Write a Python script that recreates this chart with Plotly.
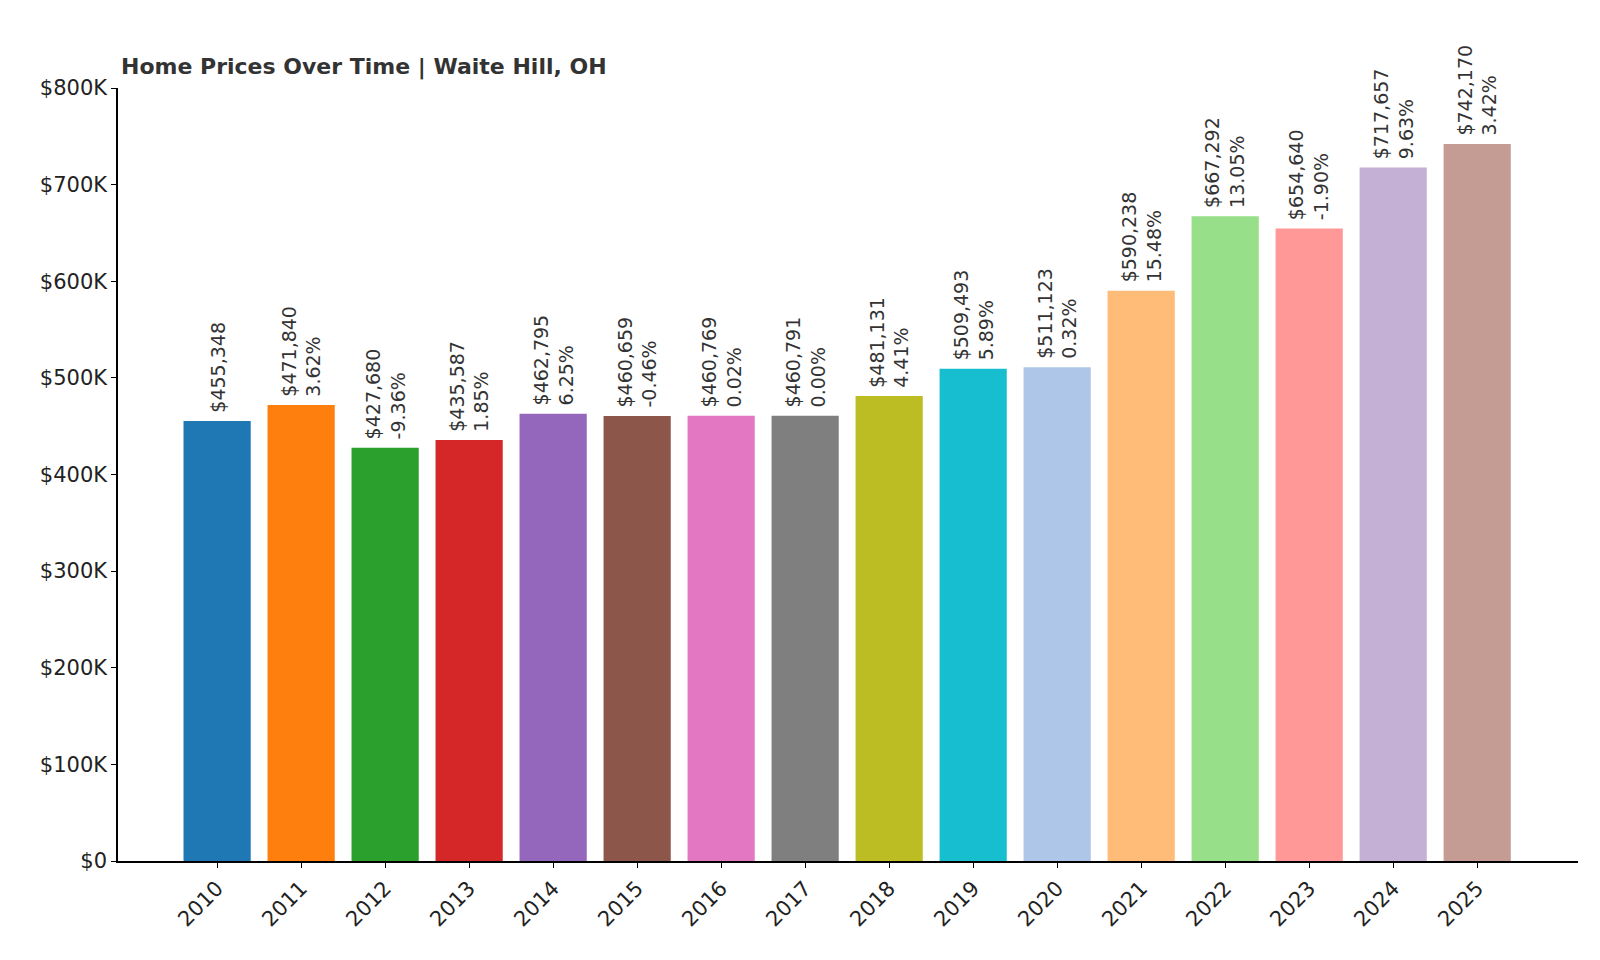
import plotly.graph_objects as go

years = [str(y) for y in range(2010, 2026)]
prices = [455348, 471840, 427680, 435587, 462795, 460659, 460769, 460791, 481131,
          509493, 511123, 590238, 667292, 654640, 717657, 742170]
changes = [None, "3.62%", "-9.36%", "1.85%", "6.25%", "-0.46%", "0.02%", "0.00%", "4.41%",
           "5.89%", "0.32%", "15.48%", "13.05%", "-1.90%", "9.63%", "3.42%"]
colors = ["#1f77b4", "#ff7f0e", "#2ca02c", "#d62728", "#9467bd", "#8c564b", "#e377c2",
          "#7f7f7f", "#bcbd22", "#17becf", "#aec7e8", "#ffbb78", "#98df8a", "#ff9896",
          "#c5b0d5", "#c49c94"]
yticks = [0, 100000, 200000, 300000, 400000, 500000, 600000, 700000, 800000]
yticklabels = ["$0", "$100K", "$200K", "$300K", "$400K", "$500K", "$600K", "$700K", "$800K"]

fig = go.Figure(go.Bar(x=list(range(len(years))), y=prices, marker_color=colors,
                       width=0.8, marker_line_width=0))

for i, (p, c) in enumerate(zip(prices, changes)):
    txt = f"${p:,}" if c is None else f"${p:,}<br>{c}"
    fig.add_annotation(x=i, y=p, text=txt, textangle=-90, showarrow=False,
                       yanchor="bottom", yshift=6, align="left",
                       font=dict(size=19, color="#333333"))

fig.update_layout(
    width=1600, height=960, plot_bgcolor="white", paper_bgcolor="white",
    margin=dict(l=110, r=30, t=80, b=107),
    font=dict(family="DejaVu Sans", size=21, color="#222222"),
    title=dict(text="<b>Home Prices Over Time | Waite Hill, OH</b>", x=113/1600, xanchor="left",
               y=1-58/960, yanchor="middle", font=dict(size=22, color="#333333")),
    showlegend=False,
)
fig.update_xaxes(tickmode="array", tickvals=list(range(len(years))), ticktext=years,
                 tickangle=-45, range=[-1.18, 16.2], showline=True, linecolor="black",
                 linewidth=1.5, ticks="outside", ticklen=5, tickcolor="black", showgrid=False)
fig.update_yaxes(tickmode="array", tickvals=yticks, ticktext=yticklabels, range=[0, 800000],
                 showline=True, linecolor="black", linewidth=1.5, ticks="outside", ticklen=5,
                 tickcolor="black", showgrid=False, zeroline=False)

fig.write_html("out.html")
